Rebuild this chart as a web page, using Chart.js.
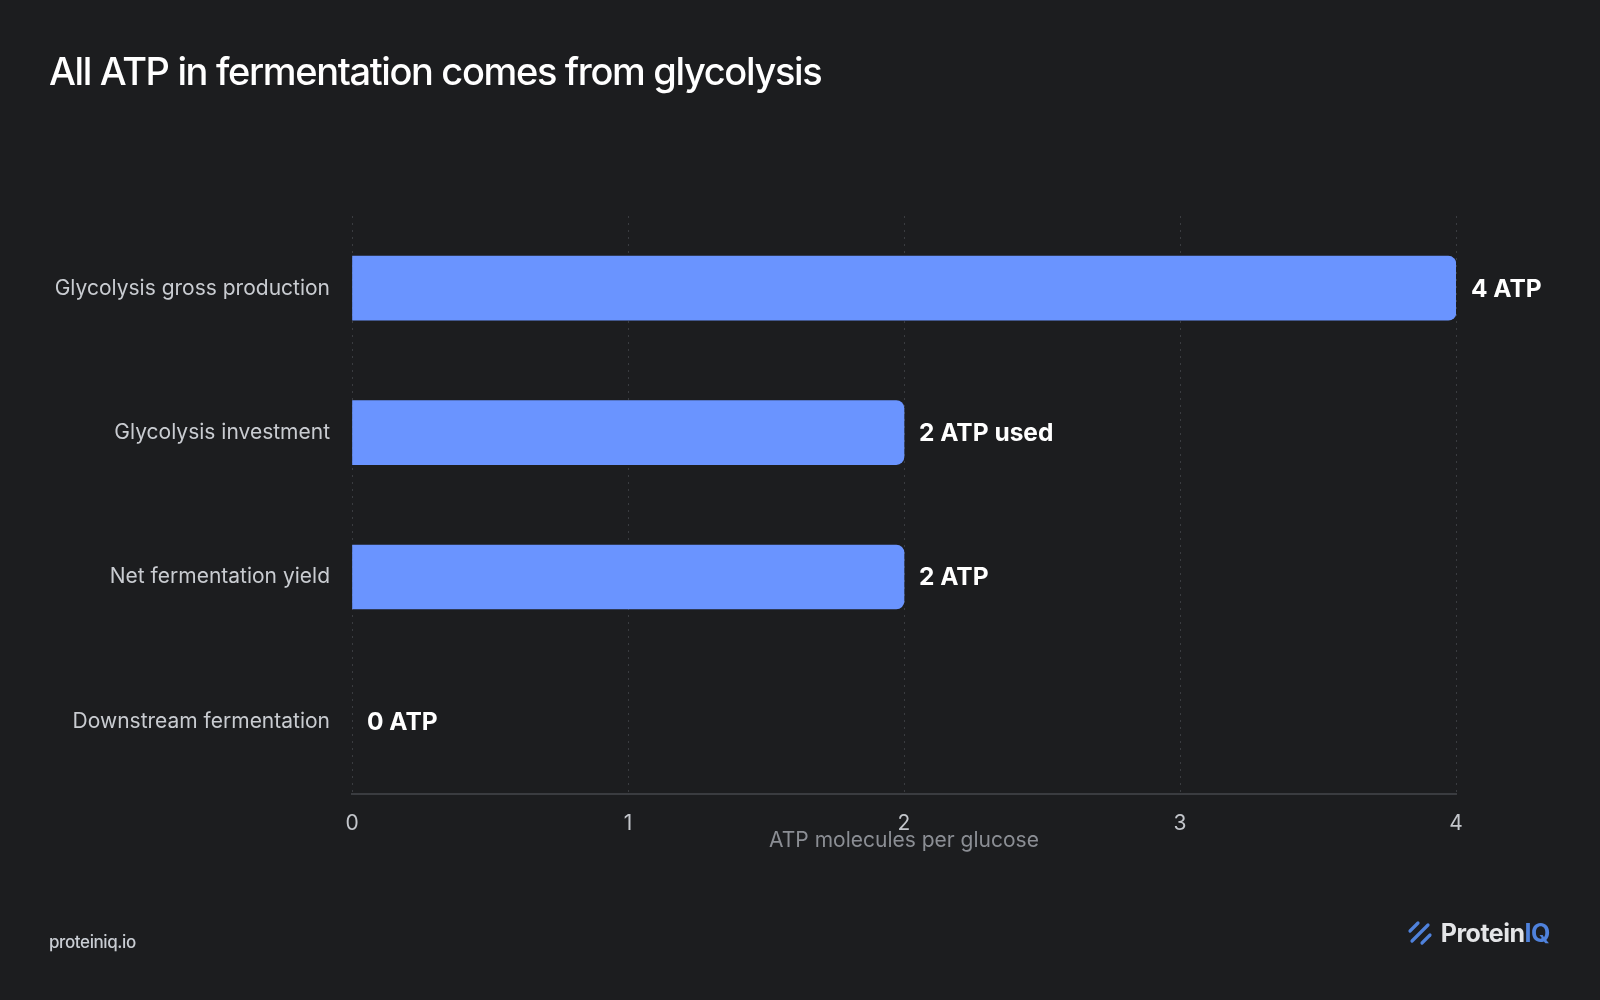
<!DOCTYPE html>
<html>
<head>
<meta charset="utf-8">
<script src="https://cdn.jsdelivr.net/npm/chart.js@4"></script>
<style>
  html, body { margin: 0; padding: 0; background: #1c1d1f; }
  #wrap { position: relative; width: 1600px; height: 1000px; overflow: hidden; }
  #title { position: absolute; left: 49px; top: 48px; margin: 0; font-family: Inter, sans-serif; font-weight: 500; font-size: 38px; letter-spacing: -1.35px; color: #ffffff; }
  #site { position: absolute; left: 49px; top: 932px; font-family: Inter, sans-serif; font-size: 17px; font-weight: 500; color: #c9cdd3; letter-spacing: -0.4px; }
  #logo { position: absolute; right: 50px; top: 918px; font-family: Inter, sans-serif; font-size: 25px; font-weight: 700; color: #e4e5e7; letter-spacing: -0.5px; display: flex; align-items: center; }
  #logo span { color: #4f82dc; }
  #logo svg { margin-right: 8px; }
  canvas { position: absolute; left: 0; top: 0; }
</style>
</head>
<body>
<div id="wrap">
  <canvas id="barChart" width="1600" height="1000"></canvas>
  <h1 id="title">All ATP in fermentation comes from glycolysis</h1>
  <div id="site">proteiniq.io</div>
  <div id="logo">
    <svg width="26" height="26" viewBox="0 0 26 26">
      <g stroke="#4f82dc" stroke-width="3.2" stroke-linecap="round" fill="#4f82dc">
        <line x1="3" y1="11" x2="11" y2="3"/>
        <line x1="5" y1="21" x2="21" y2="5"/>
        <line x1="15" y1="23" x2="23" y2="15"/>
      </g>
    </svg>Protein<span>IQ</span>
  </div>
</div>
<script>
var categories = ['Glycolysis gross production', 'Glycolysis investment', 'Net fermentation yield', 'Downstream fermentation'];
var atpValues = [4, 2, 2, 0];
var valueLabels = ['4 ATP', '2 ATP used', '2 ATP', '0 ATP'];
var xTicks = [0, 1, 2, 3, 4];

// draws the bold text just past the end of each bar
var barValueLabels = {
    id: 'barValueLabels',
    afterDatasetsDraw: function (chart) {
        var ctx = chart.ctx;
        var meta = chart.getDatasetMeta(0);
        ctx.save();
        ctx.font = 'bold 24.5px Inter, sans-serif';
        ctx.fillStyle = '#ffffff';
        ctx.textBaseline = 'middle';
        ctx.textAlign = 'left';
        meta.data.forEach(function (bar, i) {
            ctx.fillText(valueLabels[i], bar.x + 15, bar.y + 1);
        });
        ctx.restore();
    }
};

function barChart() {
    var ctx = document.getElementById('barChart').getContext('2d');
    var myChart = new Chart(ctx, {
        type: 'bar',
        data: {
            labels: categories,
            datasets: [{
                data: atpValues,
                backgroundColor: function (c) {
                    return c.raw === 0 ? 'rgba(0,0,0,0)' : '#6a94ff'; // no sliver for empty bar
                },
                borderWidth: 0,
                borderRadius: { topLeft: 0, bottomLeft: 0, topRight: 8, bottomRight: 8 },
                borderSkipped: false,
                barThickness: 64
            }]
        },
        options: {
            indexAxis: 'y',
            responsive: false,
            animation: false,
            layout: {
                padding: { top: 216, right: 144, bottom: 147, left: 0 }
            },
            plugins: {
                legend: { display: false },
                tooltip: { enabled: false }
            },
            scales: {
                x: {
                    min: 0,
                    max: 4,
                    afterBuildTicks: function (scale) {
                        scale.ticks = xTicks.map(function (v) { return { value: v }; });
                    },
                    ticks: {
                        color: '#c3c6cb',
                        padding: 17,
                        font: { family: 'Inter, sans-serif', size: 21 }
                    },
                    grid: {
                        color: '#3a3c40',
                        drawTicks: false
                    },
                    border: {
                        display: true,
                        color: '#3a3c40',
                        width: 2,
                        dash: [2, 5] // dotted vertical grid lines
                    },
                    title: {
                        display: true,
                        text: 'ATP molecules per glucose',
                        color: '#8b8e94',
                        padding: { top: -25, bottom: 0 },
                        font: { family: 'Inter, sans-serif', size: 21 }
                    }
                },
                y: {
                    afterFit: function (scale) { scale.width = 352; },
                    ticks: {
                        color: '#c9ccd1',
                        padding: 14,
                        font: { family: 'Inter, sans-serif', size: 21 }
                    },
                    grid: { display: false },
                    border: { display: false }
                }
            }
        },
        plugins: [barValueLabels]
    });
}
barChart();
</script>
</body>
</html>
